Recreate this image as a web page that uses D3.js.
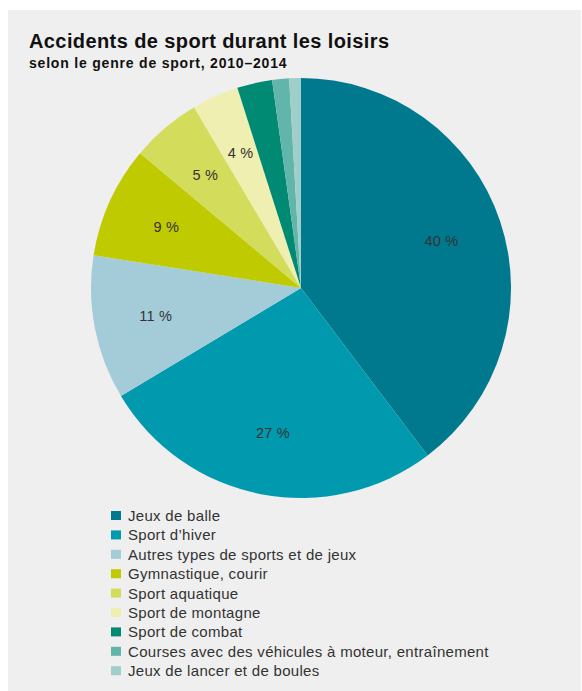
<!DOCTYPE html>
<html>
<head>
<meta charset="utf-8">
<script src="https://cdn.jsdelivr.net/npm/d3@7"></script>
<style>
  html, body { margin: 0; padding: 0; background: #ffffff; }
  svg { display: block; font-family: "Liberation Sans", Arial, Helvetica, sans-serif; }
</style>
</head>
<body>
<svg id="chart" width="582" height="691"></svg>
<script>
const categories = [
  "Jeux de balle",
  "Sport d’hiver",
  "Autres types de sports et de jeux",
  "Gymnastique, courir",
  "Sport aquatique",
  "Sport de montagne",
  "Sport de combat",
  "Courses avec des véhicules à moteur, entraînement",
  "Jeux de lancer et de boules"
];
const values = [39.7, 26.7, 11.1, 8.6, 5.4, 3.6, 2.7, 1.3, 0.9];
const colors = ["#00798f", "#0099ae", "#a4ccd8", "#bfca00", "#d3dc5b", "#eeefb0", "#008a74", "#62b5aa", "#a0cfc9"];
const title = "Accidents de sport durant les loisirs";
const subtitle = "selon le genre de sport, 2010–2014";

const svg = d3.select("#chart");
svg.append("rect").attr("x", 8).attr("y", 10).attr("width", 573).attr("height", 681).attr("fill", "#efefef");

svg.append("text").attr("x", 29).attr("y", 47.5)
  .attr("font-size", 20).attr("font-weight", "bold").attr("fill", "#111")
  .attr("letter-spacing", 0.4)
  .text(title);
svg.append("text").attr("x", 29).attr("y", 68)
  .attr("font-size", 14).attr("font-weight", "bold").attr("fill", "#111")
  .attr("letter-spacing", 0.8)
  .text(subtitle);

const cx = 301, cy = 288, r = 210;
const data = categories.map((c, i) => ({ cat: c, value: values[i], color: colors[i] }));
const pie = d3.pie().value(d => d.value).sort(null);
const arc = d3.arc().innerRadius(0).outerRadius(r);
const labelArc = d3.arc().innerRadius(148).outerRadius(148);
const arcs = pie(data);

const g = svg.append("g").attr("transform", `translate(${cx},${cy})`);
g.selectAll("path").data(arcs).join("path")
  .attr("d", arc).attr("fill", d => d.data.color);

g.selectAll("text.lbl").data(arcs.filter(d => d.data.value >= 3.5)).join("text")
  .attr("class", "lbl")
  .attr("transform", d => `translate(${labelArc.centroid(d)})`)
  .attr("text-anchor", "middle").attr("dominant-baseline", "central")
  .attr("font-size", 14.5).attr("fill", "#333").attr("letter-spacing", 0.2)
  .text(d => Math.round(d.data.value) + " %");

const leg = svg.append("g");
const lx = 111, ly0 = 511, step = 19.4;
const rows = leg.selectAll("g").data(data).join("g")
  .attr("transform", (d, i) => `translate(${lx},${ly0 + i * step})`);
rows.append("rect").attr("width", 10).attr("height", 9).attr("fill", d => d.color);
rows.append("text").attr("x", 17).attr("y", 10)
  .attr("font-size", 15).attr("fill", "#333").attr("letter-spacing", 0.3)
  .text(d => d.cat);
</script>
</body>
</html>
